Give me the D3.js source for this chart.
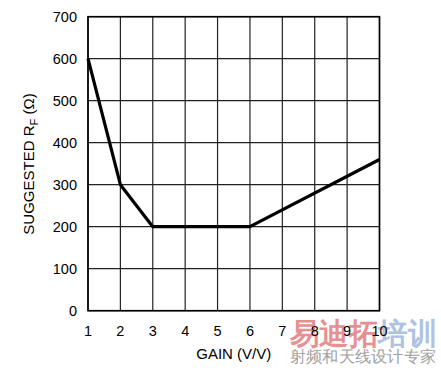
<!DOCTYPE html>
<html><head><meta charset="utf-8">
<script src="https://cdn.jsdelivr.net/npm/d3@7"></script>
<style>body{margin:0;background:#fff}svg{display:block}text{font-family:"Liberation Sans",Arial,sans-serif}</style>
</head><body><svg id="c" width="441" height="370"></svg>
<script>
const gain = [1, 2, 3, 6, 10];
const rf = [600, 300, 200, 200, 360];
const xTicks = [1,2,3,4,5,6,7,8,9,10];
const yTicks = [0,100,200,300,400,500,600,700];
const xTitle = "GAIN (V/V)";

const svg = d3.select("#c");
const L = 88, R = 379.5, T = 16.7, B = 310.7;
const x = d3.scaleLinear().domain([1,10]).range([L,R]);
const y = d3.scaleLinear().domain([0,700]).range([B,T]);

// watermark
const wm = svg.append("g");
wm.append("text").attr("x",290).attr("y",344).attr("font-size",30).attr("font-weight","bold")
  .attr("font-family","Noto Sans CJK SC").attr("textLength",88).attr("lengthAdjust","spacingAndGlyphs")
  .attr("fill","#e69092").text("易迪拓");
wm.append("text").attr("x",378).attr("y",344).attr("font-size",30).attr("font-weight","bold")
  .attr("font-family","Noto Sans CJK SC").attr("textLength",59).attr("lengthAdjust","spacingAndGlyphs")
  .attr("fill","#afc2e2").text("培训");
wm.append("text").attr("x",290).attr("y",362).attr("font-size",16).
  attr("font-family","Noto Sans CJK SC").attr("textLength",146).attr("lengthAdjust","spacingAndGlyphs")
  .attr("fill","#a0a0a0").text("射频和天线设计专家");

// grid
const g = svg.append("g");
g.selectAll(".vx").data(xTicks).join("line")
  .attr("x1",d=>x(d)).attr("x2",d=>x(d)).attr("y1",T).attr("y2",B)
  .attr("stroke","#222").attr("stroke-width",1.2);
g.selectAll(".hy").data(yTicks).join("line")
  .attr("x1",L).attr("x2",R).attr("y1",d=>y(d)).attr("y2",d=>y(d))
  .attr("stroke","#222").attr("stroke-width",1.2);
g.append("rect").attr("x",L).attr("y",T).attr("width",R-L).attr("height",B-T)
  .attr("fill","none").attr("stroke","#000").attr("stroke-width",1.6);

// tick labels
svg.append("g").selectAll("text").data(xTicks).join("text")
  .attr("x",d=>x(d)).attr("y",336).attr("text-anchor","middle").attr("font-size",14.5).attr("fill","#000").text(d=>d);
svg.append("g").selectAll("text").data(yTicks).join("text")
  .attr("x",77).attr("y",d=>y(d)+5.2).attr("text-anchor","end").attr("font-size",14.5).attr("fill","#000").text(d=>d);

svg.append("text").attr("x",(L+R)/2).attr("y",359).attr("text-anchor","middle").attr("font-size",15).text(xTitle);

const yl = svg.append("text").attr("transform","translate(34,164) rotate(-90)").attr("text-anchor","middle").attr("font-size",15);
yl.append("tspan").text("SUGGESTED R");
yl.append("tspan").attr("font-size",11).attr("dy",4).text("F");
yl.append("tspan").attr("dy",-4).text(" (Ω)");

// line
const line = d3.line().x((d,i)=>x(gain[i])).y(d=>y(d));
svg.append("path").datum(rf).attr("d",line).attr("fill","none").attr("stroke","#000")
  .attr("stroke-width",3.2).attr("stroke-linejoin","round");
</script></body></html>
